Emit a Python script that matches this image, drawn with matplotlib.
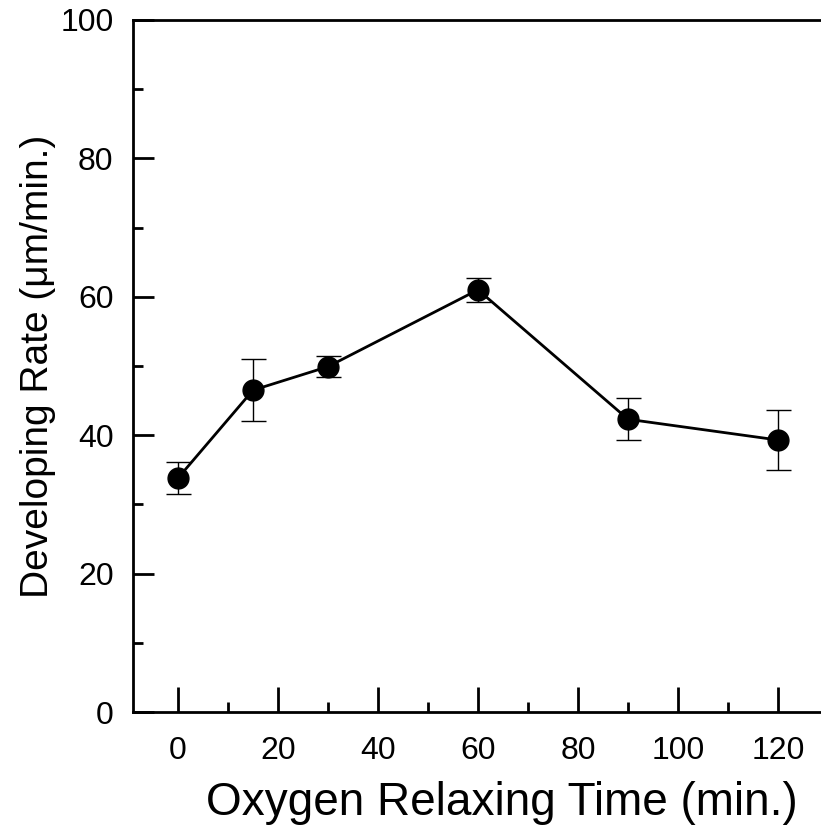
import matplotlib
matplotlib.use("Agg")
import matplotlib.pyplot as plt
from matplotlib.ticker import MultipleLocator

relax_time = [0, 15, 30, 60, 90, 120]
dev_rate = [33.8, 46.5, 49.9, 61.0, 42.3, 39.3]
dev_err = [2.3, 4.5, 1.5, 1.7, 3.0, 4.3]

plt.rcParams['font.family'] = ['Liberation Sans', 'DejaVu Sans']

fig = plt.figure(figsize=(8.21, 8.27), dpi=100)
ax = fig.add_axes([0.162, 0.139, 0.838, 0.837])

ax.errorbar(relax_time, dev_rate, yerr=dev_err, fmt='o-', color='black',
            markersize=15, linewidth=2, elinewidth=1, capsize=9, capthick=1)

ax.set_xlim(-9, 128.6)
ax.set_ylim(0, 100)
ax.xaxis.set_major_locator(MultipleLocator(20))
ax.xaxis.set_minor_locator(MultipleLocator(10))
ax.yaxis.set_major_locator(MultipleLocator(20))
ax.yaxis.set_minor_locator(MultipleLocator(10))

ax.spines['right'].set_visible(False)
for s in ['left', 'bottom', 'top']:
    ax.spines[s].set_linewidth(2)

ax.tick_params(axis='both', which='both', direction='in', top=False, right=False,
               labelsize=23, width=2)
ax.tick_params(axis='x', which='major', length=18, pad=17)
ax.tick_params(axis='x', which='minor', length=7)
ax.tick_params(axis='y', which='major', length=15, pad=14)
ax.tick_params(axis='y', which='minor', length=7)

ax.set_xlabel('Oxygen Relaxing Time (min.)', fontsize=33, labelpad=12)
ax.xaxis.set_label_coords(0.536, -0.1)
ax.xaxis.label.set_va('top')
ax.set_ylabel('Developing Rate (\u03bcm/min.)', fontsize=28, labelpad=3)

fig.savefig('out.png', dpi=100)
